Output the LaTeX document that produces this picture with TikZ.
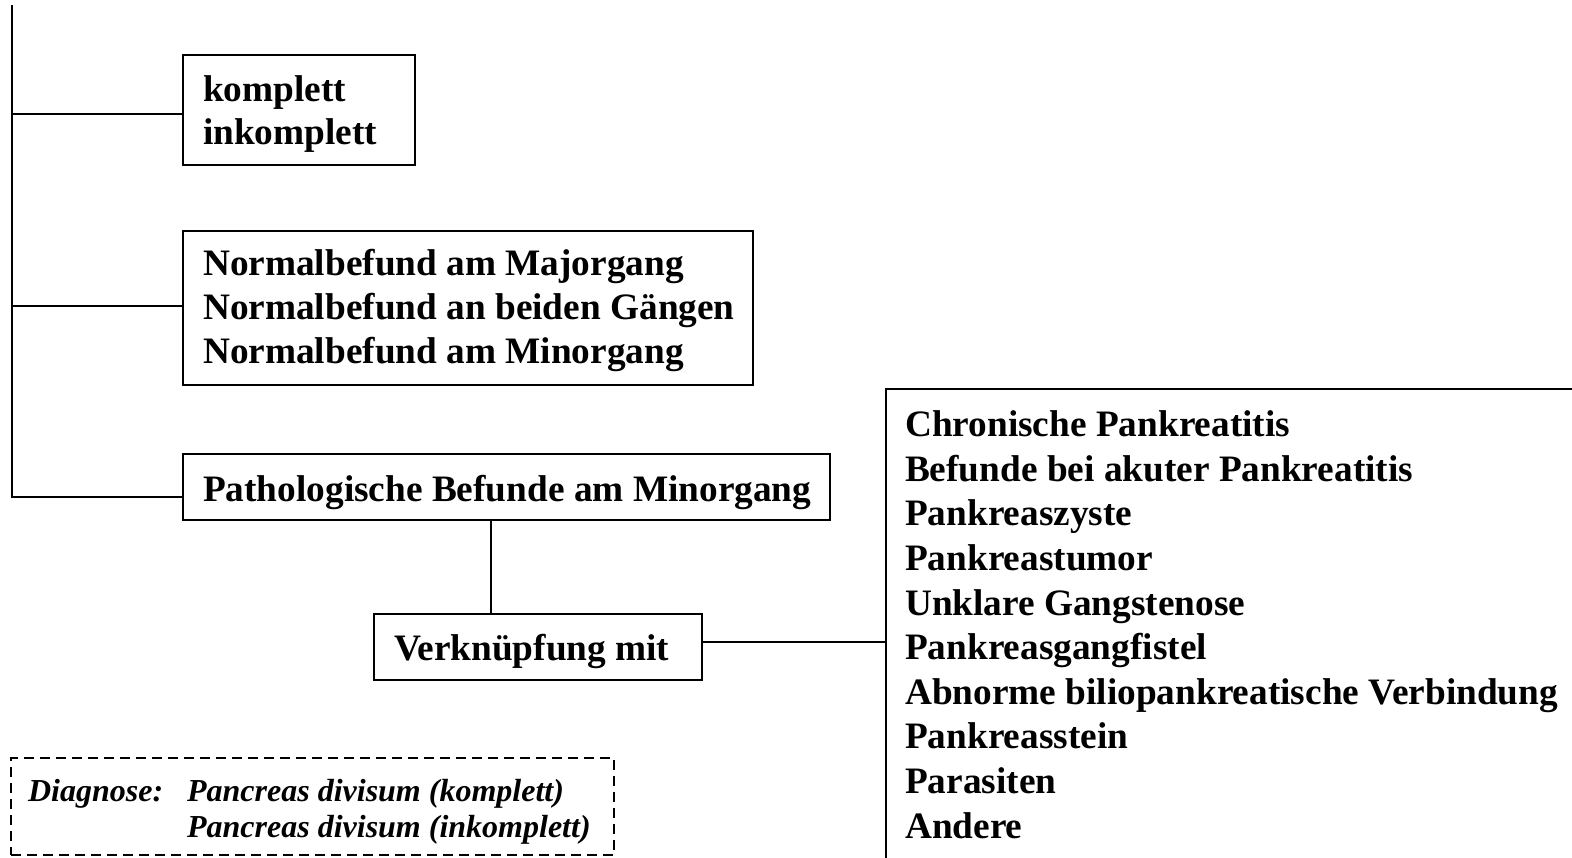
\documentclass[tikz,border=0pt]{standalone}
\usepackage{fontspec}
\setmainfont{Liberation Serif}
\begin{document}
\begin{tikzpicture}[x=1pt,y=-1pt,
  line width=2.2pt,
  box/.style={draw, rectangle, inner sep=0pt, anchor=north west},
  txt/.style={inner sep=0pt, anchor=base west, font=\bfseries\fontsize{37.3}{45}\selectfont},
  note/.style={inner sep=0pt, anchor=base west, font=\bfseries\itshape\fontsize{32}{37}\selectfont}]
\useasboundingbox (0,0) rectangle (1572,857);

% boxes
\node[box, minimum width=232pt, minimum height=110pt] (b1) at (182,54) {};
\node[box, minimum width=570pt, minimum height=154pt] (b2) at (182,230) {};
\node[box, minimum width=647pt, minimum height=66pt]  (b3) at (182,453) {};
\node[box, minimum width=328pt, minimum height=66pt]  (v)  at (373,613) {};
\node[box, minimum width=720pt, minimum height=520pt] (r)  at (885,388) {};
\node[box, dashed, dash pattern=on 10pt off 6pt, minimum width=603pt, minimum height=97pt] (d) at (10,757) {};

% texts
\node[txt] (t11) at (202,101.5) {komplett};
\node[txt] (t12) at (202,144.5) {inkomplett};
\node[txt] (t21) at (202,275) {Normalbefund am Majorgang};
\node[txt] (t22) at (202,319.3) {Normalbefund an beiden Gängen};
\node[txt] (t23) at (202,363.5) {Normalbefund am Minorgang};
\node[txt] (t31) at (202,501) {Pathologische Befunde am Minorgang};
\node[txt] (tv)  at (393,660.5) {Verknüpfung mit};
\node[txt] (r1)  at (904,436.7) {Chronische Pankreatitis};
\node[txt] (r2)  at (904,481.3) {Befunde bei akuter Pankreatitis};
\node[txt] (r3)  at (904,525.9) {Pankreaszyste};
\node[txt] (r4)  at (904,570.5) {Pankreastumor};
\node[txt] (r5)  at (904,615.1) {Unklare Gangstenose};
\node[txt] (r6)  at (904,659.7) {Pankreasgangfistel};
\node[txt] (r7)  at (904,704.3) {Abnorme biliopankreatische Verbindung};
\node[txt] (r8)  at (904,748.9) {Pankreasstein};
\node[txt] (r9)  at (904,793.5) {Parasiten};
\node[txt] (r10) at (904,838.1) {Andere};
\node[note] (dl) at (27,801) {Diagnose:};
\node[note] (d1) at (186,801) {Pancreas divisum (komplett)};
\node[note] (d2) at (186,837.5) {Pancreas divisum (inkomplett)};

% trunk and branches
\coordinate (top) at (12,5);
\coordinate (j1) at (12,114);
\coordinate (j2) at (12,306);
\coordinate (j3) at (12,497);
\draw (top) -- (j3) -- (j3 -| b3.west);
\draw (j1) -- (j1 -| b1.west);
\draw (j2) -- (j2 -| b2.west);
\draw (b3.south) ++(-15.5,0) coordinate (c3) -- (c3 |- v.north);
\draw ([yshift=5pt]v.east) coordinate (c4) -- (c4 -| r.west);
\end{tikzpicture}
\end{document}
